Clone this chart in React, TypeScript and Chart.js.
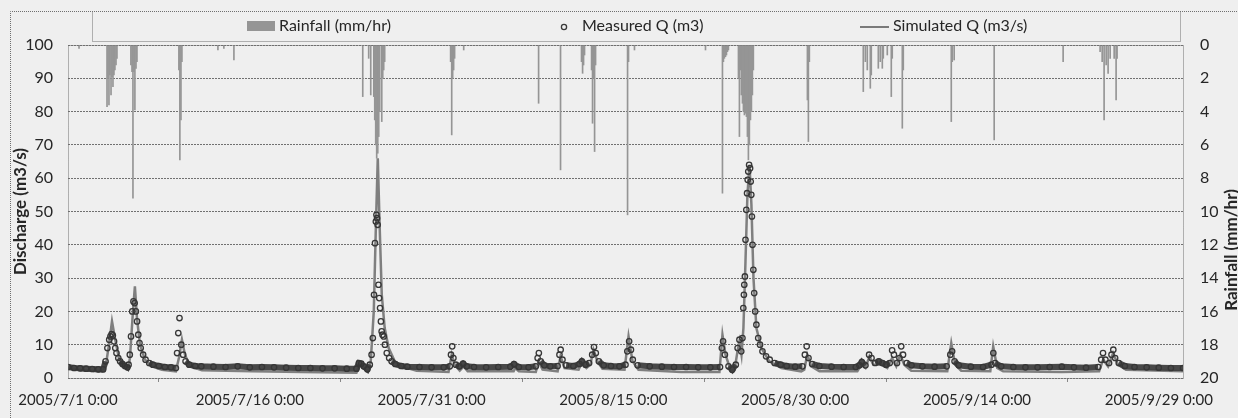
import React, { useEffect, useRef } from "react";
import { Chart, registerables } from "chart.js";

Chart.register(...registerables);

// ---- axis ticks ----
const xTickDays = [0, 15, 30, 45, 60, 75, 90];
const xTickLabels = [
  "2005/7/1 0:00",
  "2005/7/16 0:00",
  "2005/7/31 0:00",
  "2005/8/15 0:00",
  "2005/8/30 0:00",
  "2005/9/14 0:00",
  "2005/9/29 0:00",
];
const xMaxDay = 92;

const leftTitle = "Discharge (m3/s)";
const rightTitle = "Rainfall (mm/hr)";
const seriesNames = ["Rainfall (mm/hr)", "Measured Q (m3)", "Simulated Q (m3/s)"];

// ---- rainfall (days since 2005/7/1 0:00, mm/hr) ----
const rainDays = [
  0.91, 3.22, 3.30, 3.38, 3.46, 3.55, 3.63, 3.71, 3.79, 3.87, 3.96, 4.04,
  5.19, 5.28, 5.36, 5.44, 5.52, 5.61, 5.69, 9.15, 9.23, 9.32, 9.40,
  12.37, 12.86, 13.69, 24.32, 24.81, 24.98, 25.23, 25.31, 25.39, 25.47, 25.56,
  25.64, 25.72, 25.89, 25.97, 26.05, 26.13, 31.57, 31.66, 31.74, 31.82, 31.90,
  32.65, 38.83, 40.64, 42.37, 42.46, 42.54, 42.62, 43.20, 43.28, 43.36, 43.45,
  43.53, 46.17, 46.25, 46.74, 52.60, 54.00, 54.08, 54.16, 54.25, 54.33, 54.41,
  54.49, 55.32, 55.40, 55.48, 55.56, 55.65, 55.73, 55.81, 55.89, 55.98, 56.06,
  56.14, 56.22, 56.31, 56.39, 56.47, 56.55, 61.01, 61.09, 61.17, 65.62, 65.79,
  65.95, 66.20, 66.28, 66.86, 67.02, 67.19, 67.27, 67.60, 67.93, 68.01, 68.84,
  68.92, 72.88, 72.96, 73.12, 76.42, 82.11, 85.16, 85.33, 85.49, 85.66, 85.82,
  85.99, 86.32, 86.48, 86.56,
];
const rainMm = [
  0.2, 3.7, 2.0, 3.6, 1.8, 3.0, 1.9, 2.5, 1.8, 1.5, 1.2, 0.8,
  1.2, 1.6, 9.2, 1.6, 3.9, 1.4, 1.0, 1.5, 6.9, 4.5, 1.0,
  0.3, 0.2, 0.9, 3.1, 0.8, 3.0, 3.1, 4.5, 6.0, 6.8, 6.5,
  5.5, 4.0, 4.6, 2.0, 1.5, 1.0, 1.0, 5.4, 2.0, 1.5, 0.8,
  0.3, 3.5, 7.5, 1.0, 1.7, 1.2, 0.6, 1.5, 4.7, 2.0, 6.4,
  1.2, 10.2, 1.0, 0.3, 0.3, 8.9, 1.0, 0.8, 0.7, 0.6, 0.4,
  0.3, 2.0, 5.5, 1.5, 3.0, 3.5, 4.0, 4.2, 4.1, 4.3, 5.5,
  6.9, 6.0, 4.5, 4.0, 3.0, 1.5, 3.3, 5.8, 1.0, 2.8, 1.0,
  1.5, 2.6, 1.8, 1.4, 1.0, 1.4, 0.8, 0.6, 3.1, 0.8, 5.0,
  1.5, 4.6, 1.0, 0.9, 5.7, 1.0, 0.4, 1.0, 4.5, 1.2, 1.7,
  0.8, 0.8, 3.3, 0.8,
];

// ---- measured discharge (days, m3/s) ----
const measuredDays = [
  0.0, 0.5, 1.0, 1.5, 2.0, 2.5, 2.9,
  3.1, 3.25, 3.4, 3.5, 3.6, 3.7, 3.8, 3.9, 4.0, 4.15, 4.3, 4.5, 4.7, 4.9,
  5.0, 5.1, 5.2, 5.3, 5.4, 5.5, 5.6, 5.7, 5.8, 5.9, 6.0, 6.2, 6.4, 6.7, 7.0, 7.5, 8.0, 8.5, 8.9,
  9.0, 9.1, 9.2, 9.35, 9.5, 9.7, 10.0, 10.5, 11, 12, 13, 14, 15, 16, 17, 18, 19, 20, 21, 22, 23, 23.8,
  24.0, 24.2, 24.4, 24.7, 24.9, 25.05, 25.15, 25.25, 25.33, 25.4, 25.45, 25.5, 25.55, 25.62, 25.68,
  25.75, 25.82, 25.88, 25.95, 26.05, 26.15, 26.3, 26.5, 26.7, 27.0, 27.5, 28, 29, 30, 31, 31.5,
  31.6, 31.7, 31.8, 32.0, 32.3, 32.6, 32.9, 33.5, 34.5, 35.5, 36.5, 36.8, 37.2, 38, 38.6,
  38.75, 38.85, 39.0, 39.3, 39.8, 40.4, 40.55, 40.65, 40.8, 41.1, 41.7, 42.2, 42.4, 42.7, 43.0,
  43.25, 43.4, 43.55, 43.8, 44.2, 44.8, 45.5, 46.0, 46.15, 46.3, 46.45, 46.6, 47.0, 48, 49, 50, 51,
  52, 53, 53.8,
  53.95, 54.05, 54.2, 54.5, 54.8, 55.1, 55.25, 55.4, 55.55, 55.65, 55.72, 55.77, 55.8, 55.85, 55.9,
  55.97, 56.03, 56.08, 56.13, 56.2, 56.28, 56.33, 56.38, 56.43, 56.48, 56.55, 56.62, 56.7, 56.8,
  56.95, 57.1, 57.3, 57.6, 57.9, 58.3, 58.8, 59.3, 60, 60.6,
  60.8, 60.95, 61.1, 61.4, 62, 63, 64, 65, 65.3, 65.5, 65.8, 66.1, 66.3, 66.6, 66.9, 67.2, 67.5,
  67.8, 68.0, 68.15, 68.4, 68.6, 68.75, 68.9, 69.2, 69.6, 70.5, 71.5, 72.5, 72.8, 72.95, 73.15,
  73.5, 74.5, 75.5, 76.2, 76.35, 76.5, 77, 78, 79, 80, 81, 82, 83, 84, 85.0, 85.25, 85.4, 85.6,
  85.9, 86.1, 86.25, 86.4, 86.7, 87.2, 88, 89, 90, 91, 92,
];
const measuredQ = [
  3.3, 3.0, 2.9, 2.8, 2.7, 2.6, 2.6,
  5, 9, 11.5, 12.5, 13.2, 12.8, 11, 9, 7.5, 6, 5, 4.2, 3.6, 3.2,
  4, 7, 12.5, 20, 23, 22.5, 20, 17, 13, 10.5, 9, 7, 5.5, 4.5, 4, 3.6, 3.3, 3.2, 3.0,
  7.5, 13.5, 18, 10, 7, 5, 4, 3.6, 3.5, 3.4, 3.3, 3.5, 3.2, 3.3, 3.2, 3.1, 3.0, 3.0, 2.9, 2.9, 2.8, 2.8,
  4.5, 4.3, 3.5, 2.6, 4, 7, 12, 25, 40.5, 47, 49, 48, 46, 28, 24,
  21, 17, 14, 13, 12.5, 10, 7.5, 6, 5, 4.2, 3.6, 3.4, 3.3, 3.2, 3.2, 3.5,
  7, 9.5, 6, 4, 3.5, 4.3, 3.5, 3.3, 3.2, 3.3, 3.4, 4.2, 3.3, 3.2, 3.5,
  6, 7.5, 5, 3.8, 3.5, 3.6, 7, 8.5, 5.5, 3.8, 3.6, 4.2, 5, 4, 4.5,
  7, 9.3, 7.5, 5, 3.8, 3.6, 3.5, 4, 8, 11, 8.5, 5.5, 3.8, 3.5, 3.4, 3.3, 3.3,
  3.2, 3.2, 3.3,
  9, 11, 7, 3.5, 2.5, 4, 9, 11.5, 8, 12, 21, 25, 28, 30.5, 41.5,
  50.5, 55.5, 59.5, 62, 64, 63, 59, 55, 48.5, 40, 32.5, 25.5, 20, 16,
  12, 10, 8, 6.5, 5.5, 4.5, 4, 3.6, 3.4, 3.5,
  7, 9.5, 6, 4.2, 3.6, 3.4, 3.3, 3.3, 3.8, 4.8, 3.8, 7, 6, 4.5, 5, 4.5, 4,
  4.5, 8.3, 7, 4.5, 6, 9.5, 7, 4.5, 3.8, 3.5, 3.4, 3.5, 7, 8, 5,
  3.8, 3.4, 3.3, 4, 7.5, 4.5, 3.5, 3.3, 3.2, 3.2, 3.3, 3.4, 3.2, 3.1, 3.3, 5.5, 7.5, 5.5,
  4.5, 7, 8.5, 6, 4.5, 3.6, 3.3, 3.2, 3.1, 3.0, 3.0,
];

// ---- simulated discharge (days, m3/s) ----
const simDays = [
  0.16, 1.15, 2.8, 3.13, 3.38, 3.63, 3.87, 4.2, 4.62, 4.95, 5.11, 5.36, 5.52, 5.69, 5.94, 6.35,
  6.92, 7.75, 8.9, 9.15, 9.4, 9.65, 10.06, 11.05, 15.17, 19.3, 23.8, 24.07, 24.4, 24.73, 24.98,
  25.23, 25.4, 25.56, 25.72, 25.89, 26.13, 26.46, 26.96, 27.53, 28.77, 31.4, 31.66, 31.9, 32.32,
  32.65, 32.98, 36.77, 36.9, 37.2, 38.6, 38.83, 39.16, 40.4, 40.64, 40.97, 42.13, 42.37, 42.78,
  43.1, 43.36, 43.69, 44.1, 45.92, 46.25, 46.58, 47.07, 50.6, 53.75, 54.0, 54.25, 54.66, 55.0,
  55.24, 55.4, 55.57, 55.73, 55.9, 56.06, 56.23, 56.39, 56.56, 56.8, 57.21, 57.87, 58.86, 60.5,
  60.75, 61.0, 61.34, 62.0, 65.13, 65.46, 65.8, 66.13, 66.45, 67.1, 67.6, 68.0, 68.34, 68.67,
  69.0, 69.58, 72.55, 72.88, 73.2, 73.7, 76.1, 76.34, 76.67, 77.16, 82.0, 85.08, 85.41, 85.82,
  86.23, 86.64, 87.3, 92.0,
];
const simQ = [
  3.0, 2.3, 2.0, 4.0, 10, 17.0, 12, 6, 3.5, 2.5, 6, 20, 27.5, 18, 10, 5.5,
  3.5, 2.5, 2.0, 6, 11.5, 7, 3.5, 2.3, 2.0, 1.8, 1.6, 4.0, 3.0, 2.0, 5,
  20, 45, 66, 45, 25, 15, 9, 5, 3.5, 2.2, 1.8, 7, 4, 2.2,
  3.5, 2.0, 2.0, 3.0, 2.0, 1.8, 5, 2.5, 2.0, 6.5, 3, 2.5, 4.5, 3,
  4, 8.5, 5, 2.8, 2.5, 12.5, 5, 2.5, 1.8, 1.8, 13, 7, 2.5, 2.5,
  8, 11, 7, 15, 35, 55, 64, 52, 30, 15, 9, 5, 3, 2.0,
  2.5, 7, 3.5, 2.0, 2.0, 4, 3, 6.5, 4, 4, 3, 6, 3.5, 7,
  4, 2.2, 2.0, 10.5, 4, 2.2, 2.0, 9.5, 3, 2, 1.8, 2.0, 5.5, 3.5,
  7.5, 4, 2.5, 2.0,
];

const FONT = 'Lato, "Open Sans", "Liberation Sans", sans-serif';
const TEXT = "#262626";
const BG = "#efefef";

const decorPlugin = {
  id: "decor",
  beforeDraw(chart: any) {
    const { ctx, width, height } = chart;
    ctx.save();
    ctx.fillStyle = BG;
    ctx.fillRect(0, 0, width, height);
    ctx.restore();
  },
  afterDraw(chart: any) {
    const { ctx, chartArea } = chart;
    ctx.save();
    ctx.strokeStyle = "#6f6f6f";
    ctx.lineWidth = 1;
    ctx.setLineDash([1, 1]);
    // outer chart border
    ctx.beginPath();
    ctx.moveTo(10.5, 418);
    ctx.lineTo(10.5, 11.5);
    ctx.lineTo(1238, 11.5);
    ctx.stroke();
    // plot frame
    ctx.strokeRect(
      Math.round(chartArea.left) + 0.5,
      Math.round(chartArea.top) + 0.5,
      Math.round(chartArea.right - chartArea.left),
      Math.round(chartArea.bottom - chartArea.top)
    );
    // legend box
    ctx.beginPath();
    ctx.moveTo(92.5, 11.5);
    ctx.lineTo(92.5, 41.5);
    ctx.lineTo(1180.5, 41.5);
    ctx.lineTo(1180.5, 11.5);
    ctx.stroke();
    ctx.setLineDash([]);

    // legend items
    const ds = chart.data.datasets;
    ctx.font = `16px ${FONT}`;
    ctx.fillStyle = TEXT;
    ctx.textBaseline = "middle";
    ctx.textAlign = "left";
    const ly = 26;
    // rainfall swatch
    ctx.fillStyle = "#959595";
    ctx.fillRect(247, 21, 28, 10);
    ctx.fillStyle = TEXT;
    ctx.fillText(ds[0].label, 279, ly);
    // measured marker
    ctx.beginPath();
    ctx.arc(564, ly + 1, 2.6, 0, Math.PI * 2);
    ctx.strokeStyle = "#3a3a3a";
    ctx.lineWidth = 1.3;
    ctx.stroke();
    ctx.fillText(ds[1].label, 582, ly);
    // simulated line
    ctx.beginPath();
    ctx.moveTo(860, ly + 1);
    ctx.lineTo(889, ly + 1);
    ctx.strokeStyle = "#7a7a7a";
    ctx.lineWidth = 2;
    ctx.stroke();
    ctx.fillText(ds[2].label, 893, ly);

    // right axis title (reads bottom to top)
    ctx.save();
    ctx.translate(1232, 250);
    ctx.rotate(-Math.PI / 2);
    ctx.font = `bold 17px ${FONT}`;
    ctx.textAlign = "center";
    ctx.textBaseline = "middle";
    ctx.fillStyle = TEXT;
    ctx.fillText(rightTitle, 0, 0);
    ctx.restore();

    ctx.restore();
  },
};

export default function App() {
  const ref = useRef<HTMLCanvasElement | null>(null);

  useEffect(() => {
    document.body.style.margin = "0";
    document.body.style.background = BG;
    const canvas = ref.current;
    if (!canvas) return;

    const rainData = rainDays.map((d, i) => ({ x: d, y: rainMm[i] }));
    const measData = measuredDays.map((d, i) => ({ x: d, y: measuredQ[i] }));
    const simData = simDays.map((d, i) => ({ x: d, y: simQ[i] }));
    const baseDark = "rgba(62,62,62,0.95)";

    const chart = new Chart(canvas, {
      type: "line",
      data: {
        datasets: [
          {
            type: "bar",
            label: seriesNames[0],
            data: rainData as any,
            yAxisID: "y2",
            backgroundColor: "#959595",
            borderWidth: 0,
            barThickness: 1,
            order: 0,
          } as any,
          {
            type: "line",
            label: seriesNames[1],
            data: measData as any,
            yAxisID: "y",
            borderColor: baseDark,
            borderWidth: 6,
            pointRadius: 2.7,
            pointBorderWidth: 1.3,
            pointBorderColor: "#363636",
            pointBackgroundColor: "rgba(0,0,0,0)",
            tension: 0,
            segment: {
              borderColor: (c: any) =>
                c.p0.parsed.y > 5.2 || c.p1.parsed.y > 5.2 ? "rgba(0,0,0,0)" : baseDark,
            },
            order: 1,
          } as any,
          {
            type: "line",
            label: seriesNames[2],
            data: simData as any,
            yAxisID: "y",
            borderColor: "#7f7f7f",
            borderWidth: 2.5,
            pointRadius: 0,
            tension: 0,
            order: 2,
          } as any,
        ],
      },
      options: {
        animation: false,
        responsive: true,
        maintainAspectRatio: false,
        layout: { padding: { top: 45, left: 10, right: 0, bottom: 0 } },
        plugins: {
          legend: { display: false },
          tooltip: { enabled: false },
        },
        scales: {
          x: {
            type: "linear",
            min: 0,
            max: xMaxDay,
            offset: false,
            afterBuildTicks: (s: any) => {
              s.ticks = xTickDays.map((v) => ({ value: v }));
            },
            afterFit: (s: any) => {
              s.height = 40;
            },
            ticks: {
              autoSkip: false,
              maxRotation: 0,
              padding: 9,
              color: TEXT,
              font: { family: FONT, size: 15 },
              callback: (v: any) => {
                const i = xTickDays.indexOf(Number(v));
                return i >= 0 ? xTickLabels[i] : "";
              },
            },
            grid: { drawOnChartArea: false, drawTicks: true, tickLength: 4, color: "#888" },
            border: { display: false },
          },
          y: {
            position: "left",
            min: 0,
            max: 100,
            afterFit: (s: any) => {
              s.width = 58;
            },
            ticks: {
              stepSize: 10,
              padding: 15,
              color: TEXT,
              font: { family: FONT, size: 16 },
            },
            grid: { color: "#707070", drawTicks: false, lineWidth: 1 },
            border: { display: false, dash: [2, 1] },
            title: {
              display: true,
              text: leftTitle,
              color: TEXT,
              font: { family: FONT, size: 17, weight: "bold" },
              padding: { top: 0, bottom: 0 },
            },
          },
          y2: {
            position: "right",
            reverse: true,
            min: 0,
            max: 20,
            afterFit: (s: any) => {
              s.width = 55;
            },
            ticks: {
              stepSize: 2,
              padding: 17,
              color: TEXT,
              font: { family: FONT, size: 16 },
            },
            grid: { drawOnChartArea: false, drawTicks: false },
            border: { display: false },
          },
        },
      } as any,
      plugins: [decorPlugin],
    });

    return () => chart.destroy();
  }, []);

  return (
    <div style={{ position: "fixed", left: 0, top: 0, width: 1238, height: 418, background: BG }}>
      <canvas ref={ref} />
    </div>
  );
}
